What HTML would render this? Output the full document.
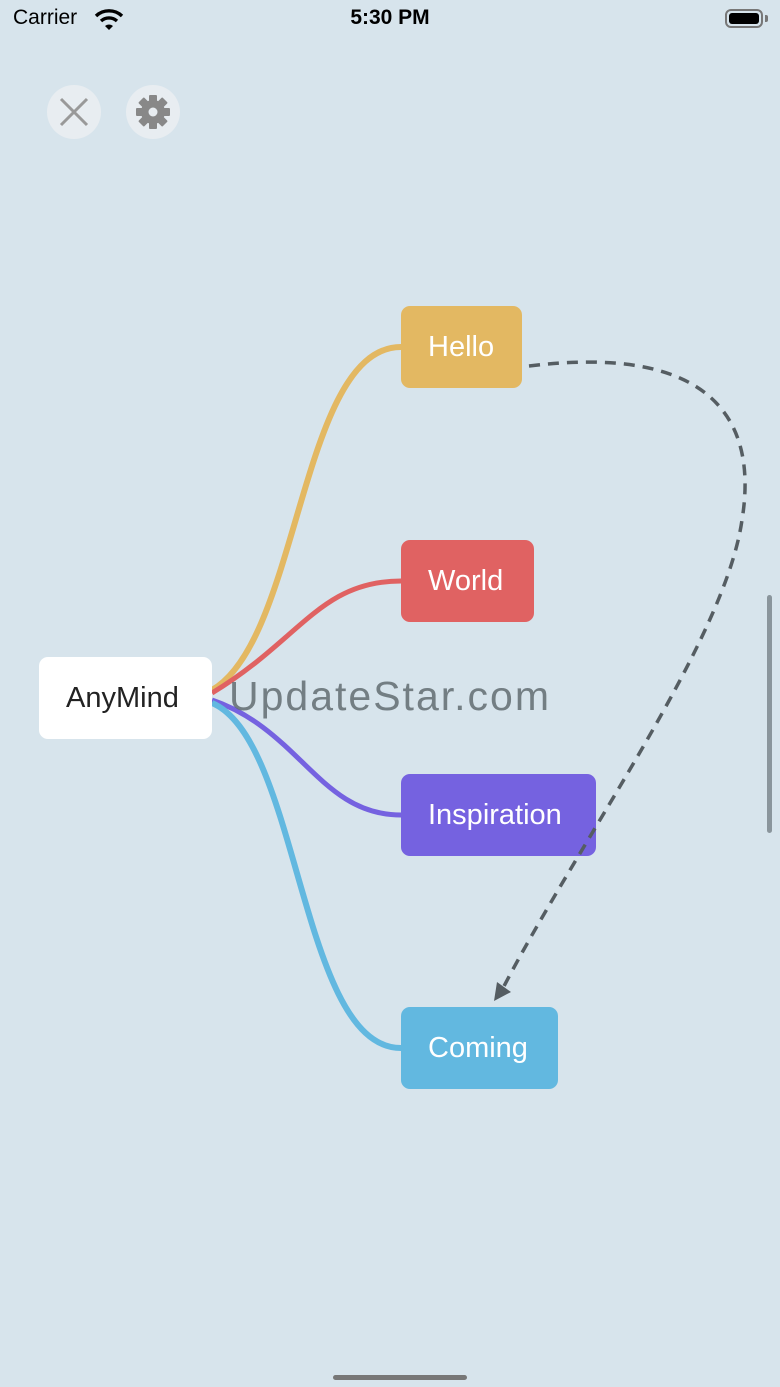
<!DOCTYPE html>
<html><head><meta charset="utf-8"><style>
html,body{margin:0;padding:0}
body{width:780px;height:1387px;background:#d7e4ec;position:relative;overflow:hidden;font-family:"Liberation Sans",sans-serif}
.node{position:absolute;border-radius:9px;color:#fff;font-size:29px;display:flex;align-items:center;justify-content:flex-start;padding-left:27px;box-sizing:border-box;height:82px}
</style></head><body>
<div style="position:absolute;left:13px;top:6px;font-size:21px;color:#000">Carrier</div>
<svg style="position:absolute;left:94px;top:8px" width="30" height="22" viewBox="0 0 30 22">
<path d="M2 8 A19 19 0 0 1 28 8" stroke="#000" stroke-width="3.4" fill="none"/>
<path d="M7 13 A12 12 0 0 1 23 13" stroke="#000" stroke-width="3.4" fill="none"/>
<path d="M11 18 L15 22 L19 18 A6 6 0 0 0 11 18Z" fill="#000"/></svg>
<div style="position:absolute;left:0;width:780px;top:6px;text-align:center;font-size:21px;font-weight:bold;color:#000">5:30 PM</div>
<div style="position:absolute;left:725px;top:9px;width:38px;height:19px;border:2px solid #777;border-radius:6px;box-sizing:border-box;padding:2px"><div style="background:#000;width:100%;height:100%;border-radius:3px"></div></div>
<div style="position:absolute;left:765px;top:15px;width:3px;height:7px;background:#777;border-radius:0 2px 2px 0"></div>

<div style="position:absolute;left:47px;top:85px;width:54px;height:54px;border-radius:50%;background:#e8edf1"></div>
<svg style="position:absolute;left:47px;top:85px" width="54" height="54"><path d="M14 14 L40 40 M40 14 L14 40" stroke="#999" stroke-width="3"/></svg>
<div style="position:absolute;left:126px;top:85px;width:54px;height:54px;border-radius:50%;background:#e8edf1"></div>
<svg style="position:absolute;left:126px;top:85px" width="54" height="54" viewBox="0 0 54 54">
<g fill="#888" transform="translate(27 27)">
<circle r="12"/>
<g><rect x="-4" y="-17" width="8" height="34" rx="1"/><rect x="-4" y="-17" width="8" height="34" rx="1" transform="rotate(45)"/><rect x="-4" y="-17" width="8" height="34" rx="1" transform="rotate(90)"/><rect x="-4" y="-17" width="8" height="34" rx="1" transform="rotate(135)"/></g>
<circle r="4.5" fill="#e8edf1"/></g></svg>

<svg style="position:absolute;left:0;top:0" width="780" height="1387">
<path d="M212 690 C300 640 300 347 401 347" stroke="#e3b862" stroke-width="6" fill="none"/>
<path d="M212 693 C300 640 320 581 401 581" stroke="#e06262" stroke-width="5" fill="none"/>
<path d="M212 700 C300 730 320 815 401 815" stroke="#7562e0" stroke-width="5" fill="none"/>
<path d="M212 703 C300 740 300 1048 401 1048" stroke="#62b8e0" stroke-width="6" fill="none"/>
</svg>

<div class="node" style="left:39px;top:657px;width:173px;background:#fff;color:#222">AnyMind</div>
<div class="node" style="left:401px;top:306px;width:121px;background:#e3b862">Hello</div>
<div class="node" style="left:401px;top:540px;width:133px;background:#e06262">World</div>
<div class="node" style="left:401px;top:774px;width:195px;background:#7562e0">Inspiration</div>
<div class="node" style="left:401px;top:1007px;width:157px;background:#62b8e0">Coming</div>

<svg style="position:absolute;left:0;top:0" width="780" height="1387">
<path d="M529 366 C700 345 760 410 742 520 C725 640 580 840 503 988" stroke="#555d62" stroke-width="3.5" stroke-dasharray="11 8" fill="none"/>
<path d="M494 1001 L497 982 L511 992 Z" fill="#555d62"/>
</svg>

<div style="position:absolute;left:229px;top:673px;font-size:41px;letter-spacing:2px;color:rgba(90,100,105,0.8)">UpdateStar.com</div>

<div style="position:absolute;left:767px;top:595px;width:5px;height:238px;border-radius:3px;background:#8a959c"></div>
<div style="position:absolute;left:333px;top:1375px;width:134px;height:5px;border-radius:3px;background:#777"></div>
</body></html>
